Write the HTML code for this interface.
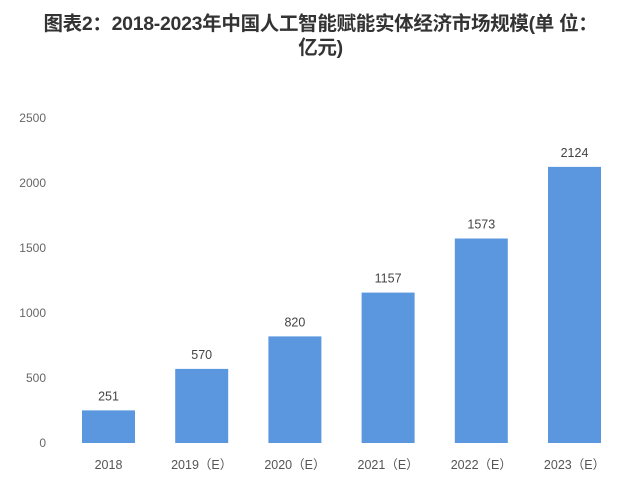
<!DOCTYPE html>
<html><head><meta charset="utf-8"><style>
body{margin:0;background:#fff;width:641px;height:488px;overflow:hidden;font-family:"Liberation Sans","Noto Sans CJK SC",sans-serif}
#title{position:absolute;left:0;top:12px;width:641px;text-align:center;font-size:19.5px;font-weight:bold;color:#333;line-height:24px;letter-spacing:-0.3px}
</style></head><body>
<div id="title">图表2：2018-2023年中国人工智能赋能实体经济市场规模(单 位：<br>亿元)</div>
<svg id="chart" width="641" height="488" style="position:absolute;left:0;top:0"></svg>
<script>
const categories=["2018","2019（E）","2020（E）","2021（E）","2022（E）","2023（E）"];
const values=[251,570,820,1157,1573,2124];
const ticks=[0,500,1000,1500,2000,2500];
const svg=document.getElementById('chart');
const NS='http://www.w3.org/2000/svg';
const y0=443,ppu=0.13,x0=108.5,step=93.2,bw=53;
const yS=v=>y0-v*ppu, xS=i=>x0+i*step;
function mk(t,a){const e=document.createElementNS(NS,t);for(const k in a)e.setAttribute(k,a[k]);svg.appendChild(e);return e;}
ticks.forEach(t=>{const e=mk('text',{x:46,y:yS(t)+4,'text-anchor':'end','font-size':12,fill:'#666'});e.textContent=t;

});
values.forEach((v,i)=>{
const r=mk('rect',{x:xS(i)-bw/2,y:yS(v),width:bw,height:v*ppu,fill:'#5b97df'});


const l=mk('text',{x:xS(i),y:yS(v)-10,'text-anchor':'middle','font-size':12.5,fill:'#444'});l.textContent=v;


const c=mk('text',{x:xS(i),y:469,'text-anchor':'middle','font-size':12.5,fill:'#555'});c.textContent=categories[i];


});
</script>
</body></html>
